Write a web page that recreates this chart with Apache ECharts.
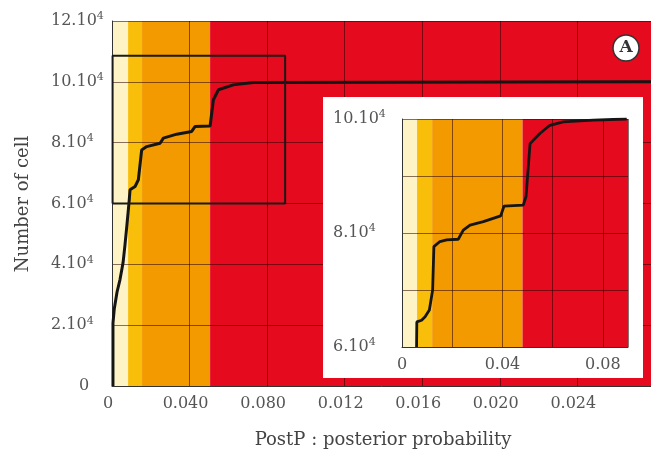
<!DOCTYPE html>
<html>
<head>
<meta charset="utf-8">
<script src="https://cdn.jsdelivr.net/npm/echarts@6/dist/echarts.min.js"></script>
<style>
  html, body { margin: 0; padding: 0; background: #ffffff; }
  #chart { width: 651px; height: 451px; }
</style>
</head>
<body>
<div id="chart"></div>
<script>
// ---------- data ----------
const xTitle = 'PostP : posterior probability';
const yTitle = 'Number of cell';
const panelLetter = 'A';

// main panel tick labels (as printed in the figure)
const mainXLabels = ['0', '0.040', '0.080', '0.012', '0.016', '0.020', '0.024'];
const mainYLabels = ['0', '2.10^4', '4.10^4', '6.10^4', '8.10^4', '10.10^4', '12.10^4'];
// inset tick labels
const insetXLabels = ['0', '', '0.04', '', '0.08'];
const insetYLabels = ['6.10^4', '', '8.10^4', '', '10.10^4'];

// background bands (edges in axis units) and colours
const bandColors = ['#FDF3C4', '#F9BE0A', '#F39A00', '#E60A1E'];
const mainBandEdges = [0, 0.0083, 0.0155, 0.0506, 0.278];
const insetBandEdges = [0, 0.006, 0.012, 0.048, 0.09];

// cumulative curve, main panel
const mainX = [0.0005, 0.0005, 0.0012, 0.0026, 0.0041, 0.0057, 0.0067, 0.0077, 0.0089, 0.0093,
  0.0119, 0.0136, 0.0153, 0.0179, 0.0248, 0.0265, 0.0334, 0.0411, 0.0428, 0.0506,
  0.0523, 0.0549, 0.0626, 0.0729, 0.278];
const mainY = [0, 20700, 25500, 30900, 34900, 40500, 46400, 53000, 61200, 64500,
  65600, 67800, 77600, 78700, 79800, 81500, 82800, 83700, 85300, 85500,
  94100, 97400, 99000, 99800, 100000];

// zoom rectangle drawn in main panel
const boxX = [0.0003, 0.0893, 0.0893, 0.0003, 0.0003];
const boxY = [60000, 60000, 108600, 108600, 60000];

// cumulative curve, inset
const insetX = [0.0058, 0.0059, 0.0078, 0.0092, 0.0109, 0.0122, 0.0127, 0.0151, 0.0178, 0.0224,
  0.0244, 0.0271, 0.0324, 0.0393, 0.0406, 0.0483, 0.0494, 0.051, 0.055, 0.0589,
  0.0642, 0.0762, 0.0895];
const insetY = [60000, 64400, 64700, 65300, 66500, 70000, 77600, 78500, 78800, 78900,
  80500, 81400, 82000, 83000, 84700, 84900, 86400, 95700, 97500, 98900,
  99500, 99800, 100000];

// ---------- helpers ----------
const FONT = 'DejaVu Serif';
const zip = (a, b) => a.map((v, i) => [v, b[i]]);
const bands = (edges) => edges.slice(0, -1).map((e, i) => [e, edges[i + 1], i]);
function pickLabel(list, v, min, step) {
  const i = Math.round((v - min) / step);
  if (Math.abs(v - (min + i * step)) > step * 1e-6) return '';
  return list[i] === undefined ? '' : list[i];
}
function supText(s, zeroPad) {
  if (!s) return '';
  const parts = s.split('^');
  if (parts.length === 1) return zeroPad ? '{z|' + s + '}' : '{b|' + s + '}';
  return '{b|' + parts[0] + '}{s|' + parts[1] + '}';
}
const richStyle = {
  b: { fontFamily: FONT, fontSize: 16, color: '#555', lineHeight: 20 },
  s: { fontFamily: FONT, fontSize: 11, color: '#555', lineHeight: 11, verticalAlign: 'top' },
  z: { fontFamily: FONT, fontSize: 16, color: '#555', lineHeight: 20, padding: [0, 0, 0, 28] }
};
function bandRender(params, api) {
  const cs = params.coordSys;
  const x0 = api.coord([api.value(0), 0])[0];
  const x1 = api.coord([api.value(1), 0])[0];
  const rect = echarts.graphic.clipRectByRect(
    { x: x0, y: cs.y, width: x1 - x0, height: cs.height },
    { x: cs.x, y: cs.y, width: cs.width, height: cs.height });
  if (!rect) return null;
  return { type: 'rect', shape: rect, style: { fill: bandColors[api.value(2)] } };
}
const gridLine = { show: true, lineStyle: { color: 'rgba(40,0,0,0.55)', width: 1 } };
const axisLine = { show: true, lineStyle: { color: '#333', width: 1 } };

const chart = echarts.init(document.getElementById('chart'), null, { renderer: 'canvas' });
chart.setOption({
  animation: false,
  backgroundColor: '#ffffff',
  grid: [
    { left: 112, top: 21, right: 0, bottom: 65 },
    { left: 402, top: 119, right: 23, bottom: 104 }
  ],
  xAxis: [
    {
      type: 'value', gridIndex: 0, min: 0, max: 0.278, interval: 0.04, z: 1,
      axisLine: axisLine, axisTick: { show: false }, splitLine: gridLine,
      axisLabel: {
        margin: 10, showMaxLabel: false, fontFamily: FONT, fontSize: 16, color: '#555',
        padding: [0, 8, 0, 0],
        formatter: v => pickLabel(mainXLabels, v, 0, 0.04)
      }
    },
    {
      type: 'value', gridIndex: 1, min: 0, max: 0.09, interval: 0.02, z: 5,
      axisLine: axisLine, axisTick: { show: false }, splitLine: gridLine,
      axisLabel: {
        margin: 10, showMaxLabel: false, fontFamily: FONT, fontSize: 16, color: '#555',
        formatter: v => pickLabel(insetXLabels, v, 0, 0.02)
      }
    }
  ],
  yAxis: [
    {
      type: 'value', gridIndex: 0, min: 0, max: 120000, interval: 20000, z: 1,
      axisLine: axisLine, axisTick: { show: false }, splitLine: gridLine,
      axisLabel: {
        margin: 61, align: 'left', rich: richStyle,
        formatter: v => supText(pickLabel(mainYLabels, v, 0, 20000), true)
      }
    },
    {
      type: 'value', gridIndex: 1, min: 60000, max: 100000, interval: 10000, z: 5,
      axisLine: axisLine, axisTick: { show: false }, splitLine: gridLine,
      axisLabel: {
        margin: 69, align: 'left', rich: richStyle,
        formatter: v => supText(pickLabel(insetYLabels, v, 60000, 10000), false)
      }
    }
  ],
  series: [
    {
      type: 'custom', xAxisIndex: 0, yAxisIndex: 0, z: 0, silent: true,
      renderItem: bandRender, data: bands(mainBandEdges)
    },
    {
      type: 'line', xAxisIndex: 0, yAxisIndex: 0, z: 2, silent: true,
      showSymbol: false, symbol: 'none',
      lineStyle: { color: '#151515', width: 3 },
      data: zip(mainX, mainY)
    },
    {
      type: 'line', xAxisIndex: 0, yAxisIndex: 0, z: 2, silent: true,
      showSymbol: false, symbol: 'none',
      lineStyle: { color: '#1a1a1a', width: 2 },
      data: zip(boxX, boxY)
    },
    {
      type: 'custom', xAxisIndex: 1, yAxisIndex: 1, z: 4, silent: true,
      renderItem: bandRender, data: bands(insetBandEdges)
    },
    {
      type: 'line', xAxisIndex: 1, yAxisIndex: 1, z: 6, silent: true,
      showSymbol: false, symbol: 'none',
      lineStyle: { color: '#151515', width: 2.8 },
      data: zip(insetX, insetY)
    }
  ],
  graphic: [
    {
      type: 'rect', z: 3, silent: true,
      shape: { x: 323, y: 97, width: 320, height: 281 },
      style: { fill: '#ffffff' }
    },
    {
      type: 'circle', z: 7, silent: true,
      shape: { cx: 626, cy: 48, r: 13 },
      style: { fill: '#ffffff', stroke: '#333', lineWidth: 1.5 }
    },
    {
      type: 'text', z: 8, silent: true, x: 626, y: 48,
      style: {
        text: panelLetter, fontFamily: FONT, fontSize: 17, fontWeight: 'bold',
        fill: '#333', align: 'center', verticalAlign: 'middle'
      }
    },
    {
      type: 'text', z: 8, silent: true, x: 383, y: 440,
      style: {
        text: xTitle, fontFamily: FONT, fontSize: 18, fill: '#444',
        align: 'center', verticalAlign: 'middle'
      }
    },
    {
      type: 'text', z: 8, silent: true, x: 23, y: 204, rotation: Math.PI / 2,
      style: {
        text: yTitle, fontFamily: FONT, fontSize: 18, fill: '#444',
        align: 'center', verticalAlign: 'middle'
      }
    }
  ]
});
</script>
</body>
</html>
